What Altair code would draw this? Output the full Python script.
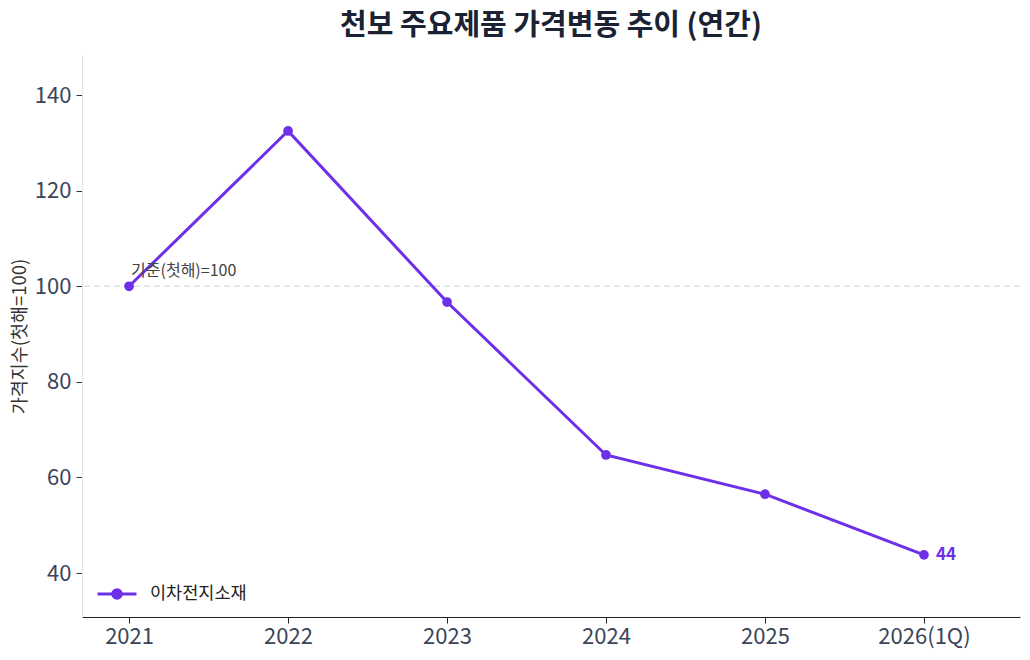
import pandas as pd
import altair as alt

FONT = "Noto Sans CJK KR"
PURPLE = "#6D30E8"
TEXT_DARK = "#1B2233"
AXIS_GRAY = "#3A4558"

years = ["2021", "2022", "2023", "2024", "2025", "2026(1Q)"]
index_values = [100.0, 132.5, 96.7, 64.7, 56.5, 43.8]
series_name = "이차전지소재"
base_value = [100]
base_label = ["기준(첫해)=100"]

df = pd.DataFrame({
    "idx": list(range(len(years))),
    "year": years,
    "value": index_values,
    "series": [series_name] * len(years),
})
last = df.tail(1)

label_expr = "[" + ",".join(f"'{y}'" for y in years) + "][datum.value]"

x_enc = alt.X(
    "idx:Q",
    title=None,
    scale=alt.Scale(domain=[-0.296, 5.604], nice=False, zero=False),
    axis=alt.Axis(
        values=list(range(len(years))), labelExpr=label_expr, grid=False,
        domainColor="#222222", tickColor="#222222", tickSize=6,
        labelFontSize=22, labelColor=AXIS_GRAY, labelPadding=3,
    ),
)
y_scale = alt.Scale(domain=[30.8, 148.4], nice=False, zero=False)

line = alt.Chart(df).mark_line(strokeWidth=3).encode(
    x=x_enc,
    y=alt.Y(
        "value:Q", scale=y_scale, title="가격지수(첫해=100)",
        axis=alt.Axis(
            values=[40, 60, 80, 100, 120, 140], grid=False,
            domainColor="#E2E2E2", tickColor="#333333", tickSize=6,
            labelFontSize=22, labelColor=AXIS_GRAY, labelPadding=5,
            titleFontSize=18.5, titleFontWeight="normal", titleColor="#333333",
            titlePadding=5,
        ),
    ),
    color=alt.Color(
        "series:N",
        scale=alt.Scale(range=[PURPLE]),
        legend=alt.Legend(
            title=None, orient="none", legendX=14, legendY=518,
            symbolType="M-1,0L1,0M-0.22,0A0.22,0.22 0 1,0 0.22,0A0.22,0.22 0 1,0 -0.22,0Z",
            symbolSize=1521, symbolStrokeWidth=3, symbolFillColor=PURPLE,
            symbolStrokeColor=PURPLE, labelFontSize=17.5, labelColor="#222222",
            labelOffset=12, padding=0,
        ),
    ),
)

points = alt.Chart(df).mark_circle(size=95, opacity=1, color=PURPLE).encode(
    x="idx:Q", y="value:Q",
)

base_rule = alt.Chart(pd.DataFrame({"v": base_value})).mark_rule(
    color="#DDE1EA", strokeDash=[6, 4], strokeWidth=1.5
).encode(y=alt.Y("v:Q", scale=y_scale))

base_text = alt.Chart(pd.DataFrame({"v": base_value, "t": base_label, "i": [0]})).mark_text(
    align="left", baseline="middle", dx=2, dy=-15, fontSize=16, color="#444444"
).encode(x="i:Q", y="v:Q", text="t:N")

end_label = alt.Chart(last).mark_text(
    align="left", baseline="middle", dx=12, fontSize=17, fontWeight="bold", color=PURPLE
).encode(x="idx:Q", y="value:Q", text=alt.Text("value:Q", format=".0f"))

chart = (
    alt.layer(base_rule, line, points, base_text, end_label)
    .properties(
        width=938, height=562,
        autosize=alt.AutoSizeParams(type="none"),
        padding={"left": 74, "top": 47, "right": 2, "bottom": 35},
        title=alt.TitleParams(
            "천보 주요제품 가격변동 추이 (연간)", fontSize=29, fontWeight="bold",
            color=TEXT_DARK, anchor="middle", offset=14,
        ),
    )
    .configure(font=FONT)
    .configure_view(strokeWidth=0)
)

chart.save("out.html", embed_options={"renderer": "svg", "actions": False})
